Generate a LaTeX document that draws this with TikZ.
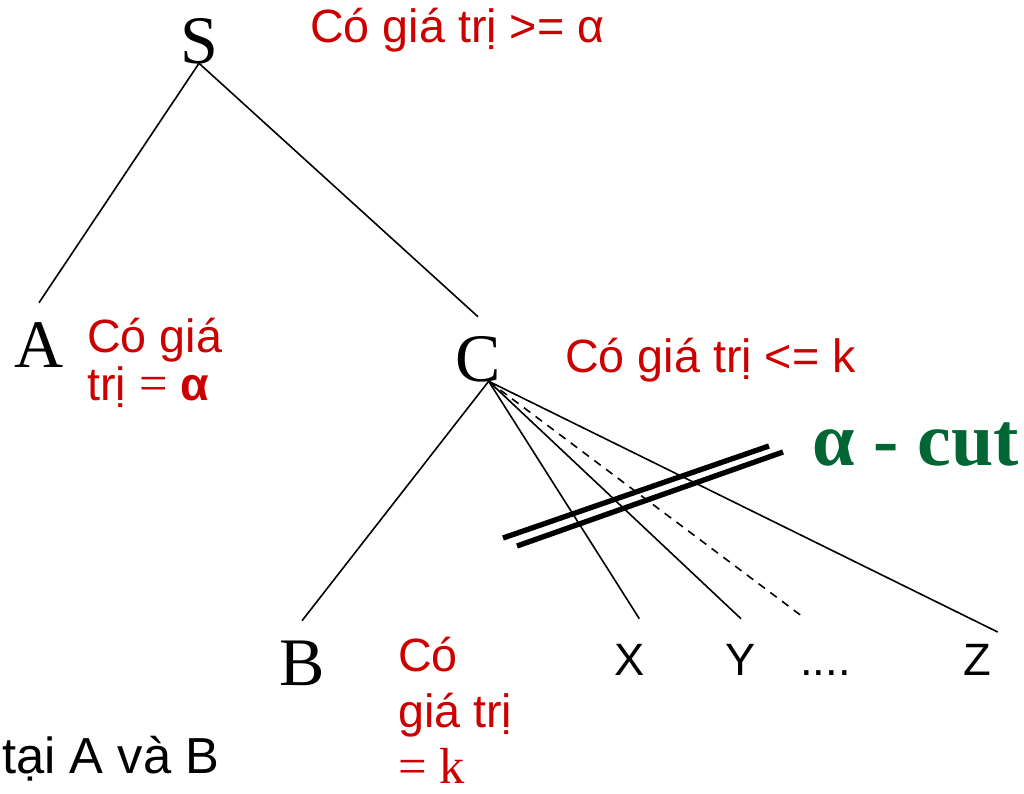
\documentclass[tikz,border=0pt]{standalone}
\usepackage{fontspec}
\newfontfamily\sansvn{Liberation Sans}
\newfontfamily\serifvn{Liberation Serif}
\usetikzlibrary{positioning}
\definecolor{valred}{RGB}{204,0,0}
\definecolor{cutgreen}{RGB}{0,102,51}

\begin{document}
\begin{tikzpicture}[x=0.75pt, y=-0.75pt,
  letter/.style={font=\serifvn\fontsize{51}{51}\selectfont, inner sep=0pt, anchor=base, text height=48pt, text depth=0pt},
  leaf/.style={font=\sansvn\fontsize{34}{34}\selectfont, inner sep=0pt, anchor=base, text height=42pt, text depth=0pt},
  note/.style={font=\sansvn\fontsize{35}{36}\selectfont, text=valred, inner sep=0pt, anchor=base west, align=left},
  edge/.style={line width=1.2pt},
  cutbar/.style={line width=4pt}]
\useasboundingbox (0,0) rectangle (1024,793);

\node[letter] (S) at (199,63) {S};
\node[letter] (A) at (39,367) {A};
\node[letter] (C) at (478,381) {C};
\node[letter] (B) at (302,685) {B};
\node[leaf] (X) at (630,675) {X};
\node[leaf] (Y) at (741,675) {Y};
\node[leaf, anchor=base west] (dots) at (800,675) {....};
\node[leaf] (Z) at (977,675) {Z};

% base of a two-line note is its last line
\node[note] (Snote) at (310,42) {Có giá trị >= α};
\node[note] (Anote) at (87,400) {Có giá\\trị {\serifvn\fontsize{38}{36}\selectfont=} \textbf{α}};
\node[note] (Cnote) at (565,372) {Có giá trị <= k};
\node[note, font=\sansvn\fontsize{35}{42}\selectfont] (Bnote) at (398,783) {Có\\giá trị\\{\serifvn\fontsize{38}{42}\selectfont= k}};
\node[font=\serifvn\bfseries\fontsize{57}{57}\selectfont, text=cutgreen, inner sep=0pt, anchor=base west] (cut) at (812,465) {α - cut};
\node[font=\sansvn\fontsize{38}{38}\selectfont, inner sep=0pt, anchor=base west] (place) at (2,773) {tại A và B};

\draw[edge] (S.south) -- (A.north);
\draw[edge] (S.south) -- (C.north);
\draw[edge] ([xshift=8pt]C.south) -- (B.north);
\draw[edge] ([xshift=8pt]C.south) -- ([xshift=7pt]X.north);
\draw[edge] ([xshift=8pt]C.south) -- (Y.north);
\draw[edge, dashed, dash pattern=on 6pt off 5pt] ([xshift=8pt]C.south) -- ([xshift=4pt]dots.north west);
\draw[edge] ([xshift=8pt]C.south) -- ([xshift=5pt,yshift=-10pt]Z.north east);

% the cut
\draw[cutbar] (503,538) -- (769,446);
\draw[cutbar] (517,546) -- (783,452);
\end{tikzpicture}
\end{document}
